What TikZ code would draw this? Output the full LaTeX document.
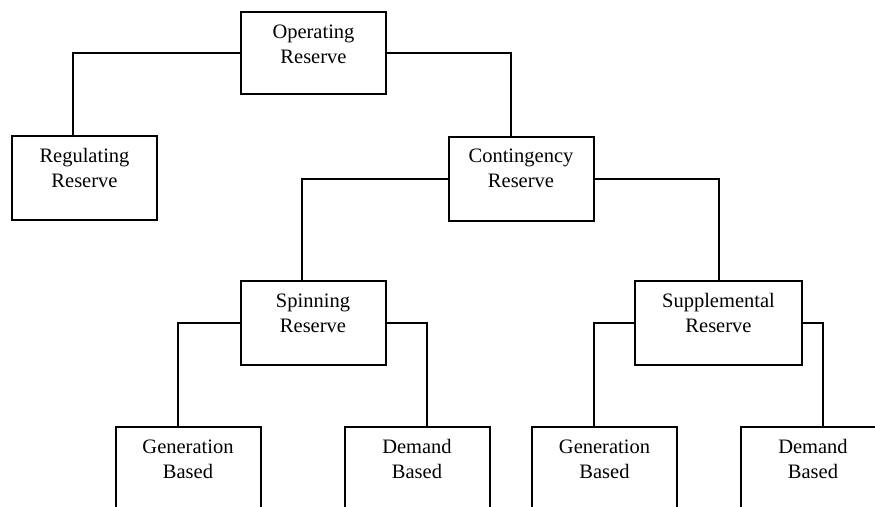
\documentclass[tikz,border=0pt]{standalone}
\usepackage{fontspec}
\setmainfont{Liberation Serif}
\begin{document}
\begin{tikzpicture}[x=1pt,y=-1pt,
  lbl/.style={anchor=north, align=center, inner sep=0pt, yshift=-13.5pt,
              font=\fontsize{20.5}{25}\selectfont},
  box/.style={draw, line width=2pt, minimum width=145pt, minimum height=84pt,
              inner sep=0pt, label={[lbl]north:{#1}}},
  conn/.style={line width=2pt}]
\useasboundingbox (0,0) rectangle (875,506);
\clip (0,0) rectangle (875,506);

\node[box={Operating\\Reserve}, minimum height=82pt] (op) at (313.5,53) {};
\node[box={Regulating\\Reserve}] (reg) at (84.5,178) {};
\node[box={Contingency\\Reserve}] (con) at (521,178.5) {};
\node[box={Spinning\\Reserve}] (spin) at (313,323) {};
\node[box={Supplemental\\Reserve}, minimum width=167pt] (sup) at (718.5,323) {};
\node[box={Generation\\Based}] (gen1) at (188,469) {};
\node[box={Demand\\Based}] (dem1) at (417,469) {};
\node[box={Generation\\Based}] (gen2) at (604.5,469) {};
\node[box={Demand\\Based}] (dem2) at (813,469) {};

\draw[conn] (op.west) -| ([xshift=-11.5pt]reg.north);
\draw[conn] (op.east) -| ([xshift=-10pt]con.north);
\draw[conn] (con.west) -| ([xshift=-11pt]spin.north);
\draw[conn] (con.east) -| ([xshift=0.5pt]sup.north);
\draw[conn] (spin.west) -| ([xshift=-10pt]gen1.north);
\draw[conn] (spin.east) -| ([xshift=10pt]dem1.north);
\draw[conn] (sup.west) -| ([xshift=-10.5pt]gen2.north);
\draw[conn] (sup.east) -| ([xshift=10pt]dem2.north);
\end{tikzpicture}
\end{document}
